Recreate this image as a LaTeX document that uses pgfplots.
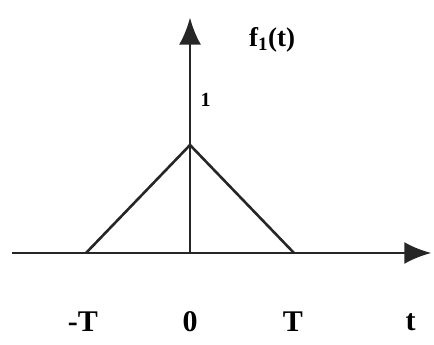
\documentclass[border=0pt]{standalone}
\usepackage{pgfplots}
\pgfplotsset{compat=1.18}
\usepackage{fontspec}
\setmainfont{Liberation Serif}
\usetikzlibrary{arrows.meta}
\begin{document}
\begin{tikzpicture}
\begin{axis}[
  scale only axis, width=434pt, height=345pt,
  xmin=-1.827, xmax=2.346, ymin=-0.852, ymax=2.343,
  hide axis, clip=false,
]
\path (axis cs:-1.827,-0.852) rectangle (axis cs:2.346,2.343);
% axes
\draw[line width=2.6pt, color=black!85, -{Latex[length=27pt,width=22pt]}] (axis cs:-1.71,0) -- (axis cs:2.32,0);
\draw[line width=2.6pt, color=black!85, -{Latex[length=27pt,width=22pt]}] (axis cs:0,0) -- (axis cs:0,2.18);
% triangle
\addplot[line width=2.6pt, color=black!85, line join=miter] coordinates {(-1,0) (0,1) (1,0)};
% labels
\node[font=\bfseries\fontsize{30}{30}\selectfont] at (axis cs:-1.03,-0.64) {-T};
\node[font=\bfseries\fontsize{30}{30}\selectfont] at (axis cs:0,-0.64) {0};
\node[font=\bfseries\fontsize{30}{30}\selectfont] at (axis cs:0.99,-0.64) {T};
\node[font=\bfseries\fontsize{30}{30}\selectfont] at (axis cs:2.12,-0.64) {t};
\node[font=\bfseries\fontsize{27}{27}\selectfont] at (axis cs:0.79,1.97) {f\textsubscript{1}(t)};
\node[font=\bfseries\fontsize{20}{20}\selectfont] at (axis cs:0.15,1.42) {1};
\end{axis}
\end{tikzpicture}
\end{document}
